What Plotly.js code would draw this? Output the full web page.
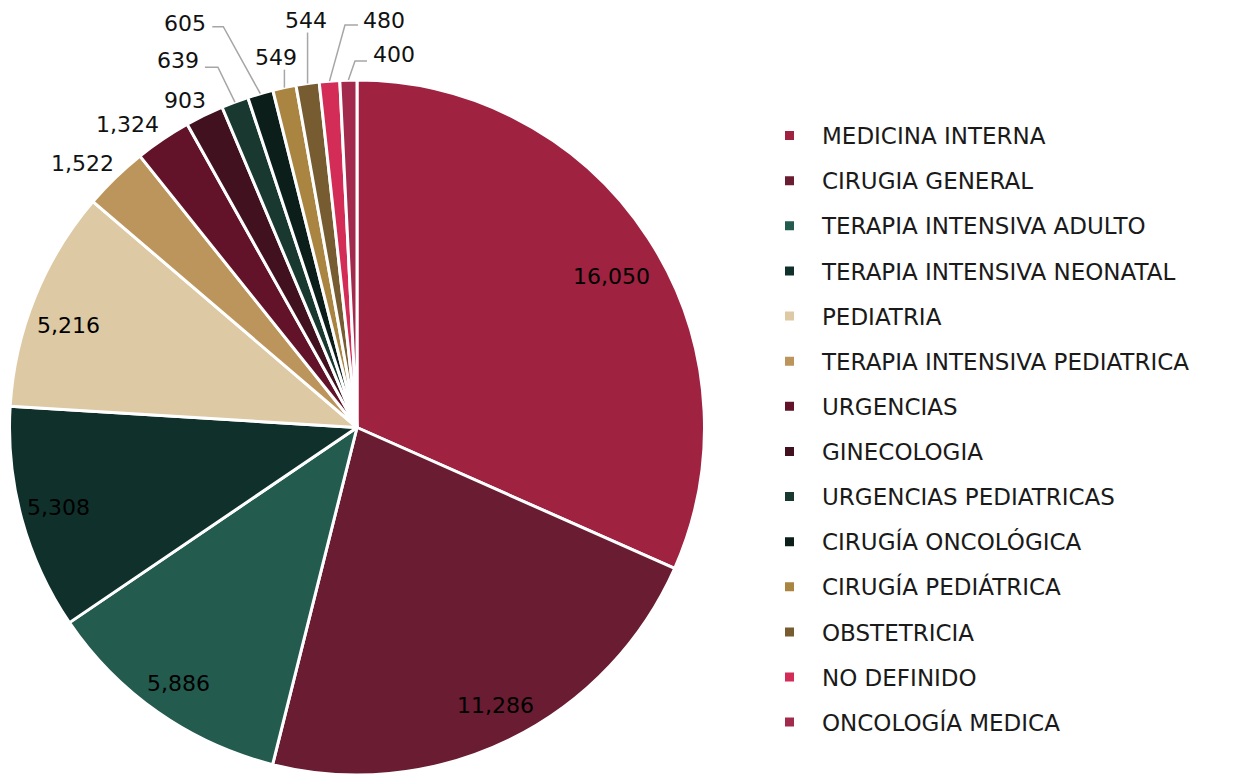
<!DOCTYPE html>
<html>
<head>
<meta charset="utf-8">
<script src="https://cdn.plot.ly/plotly-3.0.1.min.js"></script>
<style>html,body{margin:0;padding:0;background:#fff;}#chart{width:1236px;height:775px;}</style>
</head>
<body>
<div id="chart"></div>
<script>
// ---- data ----
const categories = ["MEDICINA INTERNA","CIRUGIA GENERAL","TERAPIA INTENSIVA ADULTO","TERAPIA INTENSIVA NEONATAL","PEDIATRIA","TERAPIA INTENSIVA PEDIATRICA","URGENCIAS","GINECOLOGIA","URGENCIAS PEDIATRICAS","CIRUGÍA ONCOLÓGICA","CIRUGÍA PEDIÁTRICA","OBSTETRICIA","NO DEFINIDO","ONCOLOGÍA MEDICA"];
const values = [16050,11286,5886,5308,5216,1522,1324,903,639,605,549,544,480,400];
const colors = ["#9F2241","#691C32","#235B4E","#10312B","#DDC9A3","#BC955C","#621329","#42111F","#183830","#0B1E1A","#A98541","#775B31","#D32D57","#A22A4D"];

// ---- layout geometry (pixels) ----
const W = 1236, H = 775;
const CX = 357, CY = 427.5, R = 347.5;
const FONT = "DejaVu Sans, sans-serif";
const LABEL_SIZE = 22;
const INSIDE_R = 0.86;       // radial position of inside labels (fraction of R)
const INSIDE_MIN_SHARE = 0.05;
const TEXT_DY = 2;           // glyph-centre correction for annotation text
// small pixel nudges for inside labels (label placement only)
const insideNudge = {0: [4, 10], 1: [7, 7], 2: [-7, 9], 3: [-10, -1], 4: [-11, 8]};
// outside label placement: text centre offset and leader-line bend points,
// in pixels relative to the slice's outer-edge midpoint
const outsidePlacement = {
  5:  {t: [-33, -16]},
  6:  {t: [-35, -17]},
  7:  {t: [-19, -17]},
  8:  {t: [-57, -44], bend: [[-17, -35], [-30, -35]]},
  9:  {t: [-75, -72], bend: [[-37, -67], [-48, -67]]},
  10: {t: [-8, -32],  bend: [[0, -18]]},
  11: {t: [-2, -65],  bend: [[0, -51]]},
  12: {t: [55, -63],  bend: [[15.5, -56], [28.5, -56]]},
  13: {t: [46, -27.5], bend: [[6.6, -19], [18.6, -19]]}
};

const px = x => x / W;
const py = y => 1 - y / H;
const fmt = v => v.toLocaleString("en-US");

const total = values.reduce((a, b) => a + b, 0);
const annotations = [];
const shapes = [];
let cum = 0;
values.forEach((v, i) => {
  const mid = (cum + v / 2) / total;
  cum += v;
  const ang = mid * 2 * Math.PI;           // clockwise from 12 o'clock
  const ux = Math.sin(ang), uy = -Math.cos(ang);
  if (v / total >= INSIDE_MIN_SHARE) {
    const n = insideNudge[i] || [0, 0];
    annotations.push({
      x: px(CX + ux * R * INSIDE_R + n[0]), y: py(CY + uy * R * INSIDE_R + n[1] + TEXT_DY),
      xref: "paper", yref: "paper", showarrow: false,
      xanchor: "center", yanchor: "middle",
      text: fmt(v), font: {family: FONT, size: LABEL_SIZE, color: "#000000"}
    });
  } else {
    const ex = CX + ux * R, ey = CY + uy * R;
    const p = outsidePlacement[i] || {t: [ux * 30, uy * 30]};
    annotations.push({
      x: px(ex + p.t[0]), y: py(ey + p.t[1] + TEXT_DY),
      xref: "paper", yref: "paper", showarrow: false,
      xanchor: "center", yanchor: "middle",
      text: fmt(v), font: {family: FONT, size: LABEL_SIZE, color: "#111111"}
    });
    if (p.bend) {
      let d = "M" + px(ex) + "," + py(ey);
      p.bend.forEach(b => { d += " L" + px(ex + b[0]) + "," + py(ey + b[1]); });
      shapes.push({type: "path", xref: "paper", yref: "paper", path: d,
        line: {color: "#a6a6a6", width: 1.5}});
    }
  }
});

const trace = {
  type: "pie",
  labels: categories.map(c => '<span style="font-size:23px;baseline-shift:4px">' + c + '</span>'),
  values: values,
  sort: false,
  direction: "clockwise",
  rotation: 0,
  marker: {colors: colors, line: {color: "#ffffff", width: 3}},
  textinfo: "none",
  domain: {x: [px(CX - R), px(CX + R)], y: [Math.max(0, py(CY + R)), py(CY - R)]},
  hoverinfo: "label+value"
};

const layout = {
  width: W, height: H,
  margin: {l: 0, r: 0, t: 0, b: 0},
  paper_bgcolor: "#ffffff",
  showlegend: true,
  legend: {
    x: px(782), y: py(429), xanchor: "left", yanchor: "middle",
    font: {family: FONT, size: 32.4, color: "#1a1a1a"},
    itemwidth: 30
  },
  annotations: annotations,
  shapes: shapes,
  font: {family: FONT}
};

Plotly.newPlot("chart", [trace], layout, {displayModeBar: false, staticPlot: true}).then(gd => {
  // nudge the legend squares towards the text, as in the reference
  gd.querySelectorAll(".legendpoints path").forEach(p => {
    p.setAttribute("transform", "translate(7.5,0)");
  });
});
</script>
</body>
</html>
